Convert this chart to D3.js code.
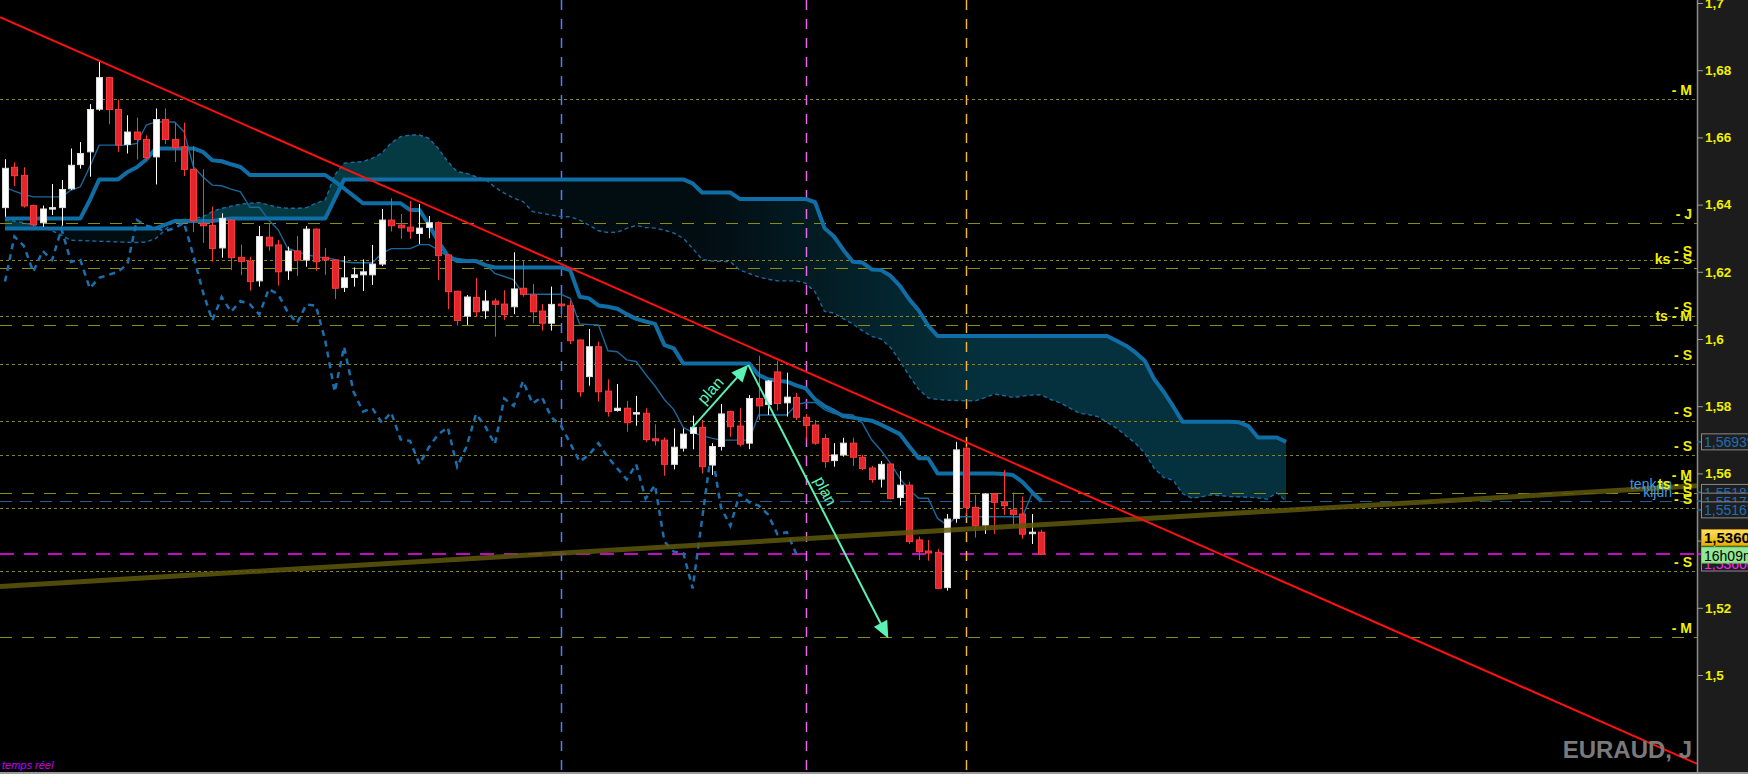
<!DOCTYPE html>
<html><head><meta charset="utf-8">
<script src="https://cdn.jsdelivr.net/npm/d3@7"></script>
<style>
html,body{margin:0;padding:0;background:#000;overflow:hidden}
svg{display:block}
text{font-family:"Liberation Sans",Arial,sans-serif}
</style></head><body>
<svg id="c" width="1748" height="774"></svg>
<script>
// ---------------- DATA ----------------
const opens = [
1.6391,1.6511,1.6487,1.6397,1.6346,1.6390,1.6391,1.6447,1.6519,1.6557,
1.6684,1.6778,1.6683,1.6579,1.6616,1.6594,1.6542,1.6653,1.6594,1.6572,
1.6505,1.6344,1.6338,1.6271,1.6354,1.6243,1.6232,1.6173,1.6303,1.6280,
1.6203,1.6262,1.6235,1.6327,1.6243,1.6235,1.6153,1.6183,1.6191,1.6191,
1.6223,1.6354,1.6339,1.6333,1.6314,1.6332,1.6346,1.6250,1.6142,1.6068,
1.6124,1.6084,1.6113,1.6104,1.6096,1.6151,1.6131,1.6083,1.6047,1.6104,
1.6099,1.5997,1.5888,1.5977,1.5845,1.5787,1.5794,1.5777,1.5779,1.5703,
1.5699,1.5627,1.5675,1.5719,1.5737,1.5625,1.5680,1.5784,1.5741,1.5690,
1.5823,1.5805,1.5902,1.5810,1.5826,1.5767,1.5744,1.5704,1.5638,1.5655,
1.5690,1.5648,1.5616,1.5583,1.5628,1.5528,1.5565,1.5402,1.5369,1.5365,
1.5260,1.5466,1.5675,1.5499,1.5446,1.5539,1.5514,1.5491,1.5479,1.5422,1.5425];
const highs = [
1.6535,1.6526,1.6511,1.6400,1.6397,1.6461,1.6473,1.6567,1.6586,1.6699,
1.6827,1.6780,1.6713,1.6666,1.6659,1.6606,1.6686,1.6686,1.6644,1.6644,
1.6574,1.6505,1.6394,1.6374,1.6356,1.6281,1.6245,1.6336,1.6344,1.6295,
1.6275,1.6307,1.6336,1.6329,1.6271,1.6237,1.6247,1.6213,1.6237,1.6280,
1.6387,1.6419,1.6372,1.6411,1.6402,1.6366,1.6350,1.6252,1.6144,1.6131,
1.6182,1.6145,1.6121,1.6145,1.6258,1.6232,1.6164,1.6104,1.6156,1.6131,
1.6114,1.5999,1.6030,1.5992,1.5880,1.5866,1.5816,1.5831,1.5794,1.5746,
1.5707,1.5734,1.5734,1.5772,1.5759,1.5690,1.5807,1.5787,1.5794,1.5833,
1.5950,1.5878,1.5935,1.5900,1.5840,1.5777,1.5759,1.5717,1.5690,1.5706,
1.5706,1.5655,1.5622,1.5637,1.5630,1.5607,1.5575,1.5412,1.5402,1.5375,
1.5479,1.5694,1.5680,1.5536,1.5541,1.5541,1.5610,1.5543,1.5531,1.5479,1.5432];
const lows = [
1.6364,1.6455,1.6391,1.6334,1.6334,1.6369,1.6337,1.6443,1.6507,1.6483,
1.6679,1.6639,1.6557,1.6552,1.6534,1.6534,1.6460,1.6580,1.6527,1.6485,
1.6318,1.6286,1.6230,1.6242,1.6205,1.6190,1.6144,1.6156,1.6263,1.6159,
1.6176,1.6188,1.6215,1.6203,1.6191,1.6119,1.6140,1.6156,1.6143,1.6161,
1.6217,1.6320,1.6298,1.6298,1.6283,1.6300,1.6176,1.6089,1.6040,1.6042,
1.6066,1.6060,1.6007,1.6057,1.6074,1.6126,1.6047,1.6025,1.6025,1.6063,
1.5985,1.5828,1.5861,1.5814,1.5769,1.5784,1.5724,1.5742,1.5693,1.5683,
1.5593,1.5612,1.5665,1.5672,1.5600,1.5595,1.5668,1.5709,1.5680,1.5672,
1.5759,1.5774,1.5787,1.5769,1.5759,1.5702,1.5685,1.5617,1.5620,1.5650,
1.5622,1.5610,1.5572,1.5558,1.5523,1.5504,1.5390,1.5342,1.5340,1.5255,
1.5251,1.5453,1.5476,1.5409,1.5420,1.5420,1.5476,1.5441,1.5405,1.5390,1.5359];
const closes = [
1.6508,1.6486,1.6396,1.6340,1.6387,1.6391,1.6445,1.6517,1.6552,1.6683,
1.6778,1.6683,1.6577,1.6616,1.6594,1.6540,1.6653,1.6594,1.6569,1.6505,
1.6352,1.6337,1.6269,1.6359,1.6242,1.6231,1.6171,1.6305,1.6277,1.6200,
1.6262,1.6235,1.6327,1.6230,1.6235,1.6151,1.6182,1.6191,1.6200,1.6223,
1.6354,1.6337,1.6331,1.6321,1.6330,1.6346,1.6248,1.6141,1.6055,1.6125,
1.6081,1.6113,1.6103,1.6073,1.6149,1.6133,1.6081,1.6047,1.6103,1.6099,
1.5995,1.5843,1.5977,1.5843,1.5784,1.5794,1.5751,1.5781,1.5701,1.5697,
1.5627,1.5678,1.5717,1.5737,1.5620,1.5680,1.5777,1.5739,1.5687,1.5823,
1.5801,1.5875,1.5808,1.5827,1.5767,1.5743,1.5690,1.5635,1.5655,1.5690,
1.5648,1.5615,1.5582,1.5627,1.5525,1.5565,1.5397,1.5367,1.5363,1.5258,
1.5464,1.5670,1.5499,1.5444,1.5539,1.5514,1.5504,1.5478,1.5419,1.5425,1.5360];
const tenkan = [
1.6451,1.6440,1.6430,1.6423,1.6423,1.6423,1.6423,1.6443,1.6453,1.6513,
1.6577,1.6577,1.6577,1.6577,1.6582,1.6637,1.6646,1.6646,1.6646,1.6617,
1.6513,1.6483,1.6458,1.6456,1.6446,1.6438,1.6392,1.6392,1.6354,1.6325,
1.6270,1.6260,1.6251,1.6245,1.6241,1.6237,1.6230,1.6227,1.6227,1.6227,
1.6255,1.6269,1.6269,1.6269,1.6281,1.6281,1.6265,1.6245,1.6240,1.6236,
1.6233,1.6222,1.6195,1.6186,1.6176,1.6133,1.6133,1.6133,1.6133,1.6133,
1.6121,1.6045,1.6043,1.6042,1.5965,1.5962,1.5938,1.5933,1.5895,1.5860,
1.5820,1.5790,1.5737,1.5722,1.5712,1.5705,1.5699,1.5699,1.5699,1.5699,
1.5774,1.5774,1.5774,1.5774,1.5805,1.5811,1.5811,1.5790,1.5778,1.5776,
1.5774,1.5750,1.5700,1.5668,1.5630,1.5585,1.5551,1.5526,1.5526,1.5466,
1.5446,1.5471,1.5471,1.5471,1.5471,1.5471,1.5471,1.5471,1.5471,1.5538,1.5517];
const kijun = [
1.6359,1.6359,1.6359,1.6359,1.6359,1.6359,1.6359,1.6359,1.6359,1.6413,
1.6475,1.6475,1.6475,1.6497,1.6511,1.6534,1.6567,1.6567,1.6567,1.6567,
1.6567,1.6557,1.6532,1.6529,1.6520,1.6512,1.6488,1.6488,1.6488,1.6488,
1.6488,1.6488,1.6488,1.6488,1.6488,1.6469,1.6448,1.6426,1.6404,1.6404,
1.6404,1.6404,1.6404,1.6384,1.6384,1.6340,1.6290,1.6248,1.6232,1.6232,
1.6232,1.6220,1.6213,1.6213,1.6213,1.6213,1.6213,1.6213,1.6213,1.6213,
1.6205,1.6126,1.6121,1.6100,1.6096,1.6090,1.6074,1.6060,1.6052,1.6045,
1.5982,1.5972,1.5927,1.5927,1.5927,1.5927,1.5927,1.5927,1.5927,1.5927,
1.5893,1.5880,1.5876,1.5873,1.5862,1.5853,1.5820,1.5800,1.5786,1.5770,
1.5766,1.5761,1.5757,1.5745,1.5731,1.5717,1.5680,1.5645,1.5645,1.5600,
1.5600,1.5600,1.5600,1.5600,1.5600,1.5600,1.5598,1.5595,1.5575,1.5545,1.5518];
// leading spans, 26 periods beyond the last candle (indices 0..136)
const senkouA = [
1.6354,1.6351,1.6346,1.6339,1.6332,1.6322,1.6309,1.6294,1.6293,1.6292,
1.6291,1.6290,1.6289,1.6288,1.6287,1.6289,1.6299,1.6324,1.6354,1.6356,
1.6358,1.6364,1.6379,1.6389,1.6395,1.6401,1.6404,1.6406,1.6399,1.6392,
1.6389,1.6389,1.6391,1.6404,1.6414,1.6488,1.6523,1.6526,1.6528,1.6538,
1.6553,1.6584,1.6602,1.6607,1.6607,1.6597,1.6567,1.6528,1.6498,1.6493,
1.6483,1.6475,1.6452,1.6434,1.6419,1.6409,1.6379,1.6374,1.6369,1.6364,
1.6364,1.6354,1.6339,1.6322,1.6317,1.6318,1.6329,1.6338,1.6332,1.6330,
1.6324,1.6315,1.6300,1.6270,1.6237,1.6232,1.6231,1.6230,1.6205,1.6195,
1.6185,1.6178,1.6173,1.6173,1.6173,1.6166,1.6140,1.6082,1.6077,1.6060,
1.6045,1.6025,1.6008,1.6000,1.5975,1.5935,1.5890,1.5850,1.5825,1.5820,
1.5818,1.5817,1.5816,1.5816,1.5825,1.5836,1.5832,1.5826,1.5830,1.5833,
1.5834,1.5820,1.5810,1.5795,1.5780,1.5775,1.5769,1.5752,1.5735,1.5712,
1.5690,1.5660,1.5615,1.5588,1.5580,1.5540,1.5526,1.5530,1.5536,1.5534,
1.5531,1.5530,1.5529,1.5527,1.5523,1.5543,1.5517];
const senkouB = [
1.6329,1.6329,1.6329,1.6329,1.6329,1.6329,1.6329,1.6329,1.6329,1.6329,
1.6329,1.6329,1.6329,1.6329,1.6329,1.6329,1.6329,1.6340,1.6351,1.6351,
1.6351,1.6351,1.6351,1.6355,1.6359,1.6359,1.6359,1.6359,1.6359,1.6359,
1.6359,1.6359,1.6359,1.6359,1.6359,1.6417,1.6475,1.6475,1.6475,1.6475,
1.6475,1.6475,1.6475,1.6475,1.6475,1.6475,1.6475,1.6475,1.6475,1.6475,
1.6475,1.6475,1.6475,1.6475,1.6475,1.6475,1.6475,1.6475,1.6475,1.6475,
1.6475,1.6475,1.6475,1.6475,1.6475,1.6475,1.6475,1.6475,1.6475,1.6475,
1.6475,1.6475,1.6475,1.6463,1.6436,1.6436,1.6436,1.6436,1.6417,1.6417,
1.6417,1.6417,1.6417,1.6417,1.6417,1.6417,1.6407,1.6330,1.6305,1.6265,
1.6230,1.6228,1.6207,1.6205,1.6188,1.6158,1.6118,1.6085,1.6040,1.6009,
1.6009,1.6009,1.6009,1.6009,1.6009,1.6009,1.6009,1.6009,1.6009,1.6009,
1.6009,1.6009,1.6009,1.6009,1.6009,1.6009,1.6009,1.6009,1.5995,1.5980,
1.5960,1.5935,1.5880,1.5843,1.5800,1.5754,1.5754,1.5754,1.5754,1.5754,
1.5754,1.5752,1.5741,1.5707,1.5707,1.5707,1.5694];
const chikouShift = 26;
const tickValues = [1.5,1.52,1.54,1.56,1.58,1.6,1.62,1.64,1.66,1.68,1.7];
const tickLabels = ["1,5","1,52","1,54","1,56","1,58","1,6","1,62","1,64","1,66","1,68","1,7"];
const levelValues = [1.67143,1.63443,1.62351,1.62104,1.60685,1.60417,1.59247,1.57560,1.56539,1.55685,1.55426,1.55188,1.54961,1.53095,1.51122];
const levelStyles = ["fine","long","fine","long","fine","long","fine","fine","fine","none","long","blue","fine","fine","long"];
const levelLabels = ["- M","- J","- S","ks - S","- S","ts - M","- S","- S","- S","- M","ts - S","- S","- S","- S","- M"];
const levelTags = ["","","","","","","","","","","tenkan","kijun","","",""];
const vLineIdx = [59,85,102];
const vLineColors = ["#4f7dff","#e86ae8","#f0b43a"];
const redTrend = [{i:-0.53,v:1.6958},{i:179.6,v:1.4736}];
const oliveTrend = [{i:-0.53,v:1.52635},{i:179.6,v:1.5563}];
const planArrows = [
  {from:{i:72.9,v:1.5734}, to:{i:78.9,v:1.5923}, label:"plan"},
  {from:{i:78.9,v:1.5923}, to:{i:93.77,v:1.5109}, label:"plan"}];
const markerValues = [1.56939,1.55181,1.55174,1.55167];
const markerLabels = ["1,56939","1,55181","1,55174","1,55167"];
const markerStack = [0,-1,0,1];
const lastPrice = 1.5360;
const lastPriceLabel = "1,5360";
const lastPriceLabel2 = "1,53600";
const timerLabel = "16h09m";
const symbolLabel = "EURAUD, J";
const modeLabel = "temps réel";

// ---------------- DRAW ----------------
const W=1748, H=774, plotR=1697, plotB=772;
const svg=d3.select("#c");
const x=d3.scaleLinear().domain([0,110]).range([5,1041.2]);
const y=d3.scaleLinear().domain([1.5,1.7]).range([675,3]);

svg.append("rect").attr("width",W).attr("height",H).attr("fill","#000");
const defs=svg.append("defs");
defs.append("clipPath").attr("id","plot").append("rect").attr("x",0).attr("y",0).attr("width",plotR).attr("height",plotB);
const cIdx=d3.range(senkouA.length);
defs.append("clipPath").attr("id","aboveB").append("path")
  .attr("d",d3.area().x(i=>x(i)).y0(0).y1(i=>y(senkouB[i]))(cIdx));
defs.append("clipPath").attr("id","belowB").append("path")
  .attr("d",d3.area().x(i=>x(i)).y0(plotB).y1(i=>y(senkouB[i]))(cIdx));
const grad=defs.append("linearGradient").attr("id","bear").attr("gradientUnits","userSpaceOnUse")
  .attr("x1",x(74)).attr("x2",x(104)).attr("y1",0).attr("y2",0);
grad.append("stop").attr("offset",0).attr("stop-color","#020d12");
grad.append("stop").attr("offset",1).attr("stop-color","#04313d");
const gold=defs.append("linearGradient").attr("id","gold").attr("x1",0).attr("x2",0).attr("y1",0).attr("y2",1);
gold.append("stop").attr("offset",0).attr("stop-color","#ffe060");
gold.append("stop").attr("offset",1).attr("stop-color","#e8b000");

const plot=svg.append("g").attr("clip-path","url(#plot)");

// cloud
const between=d3.area().x(i=>x(i)).y0(i=>y(senkouA[i])).y1(i=>y(senkouB[i]));
plot.append("g").attr("clip-path","url(#aboveB)").append("path").attr("d",between(cIdx)).attr("fill","#053a42");
plot.append("g").attr("clip-path","url(#belowB)").append("path").attr("d",between(cIdx)).attr("fill","url(#bear)");

// level lines
const styleMap={fine:{c:"#85851a",d:"3,3",w:1},long:{c:"#8c8c12",d:"12,10",w:1.2},blue:{c:"#22608e",d:"12,8",w:1.2}};
levelValues.forEach((v,k)=>{
  const s=styleMap[levelStyles[k]]; if(!s) return;
  plot.append("line").attr("x1",0).attr("x2",plotR).attr("y1",Math.round(y(v))+0.5).attr("y2",Math.round(y(v))+0.5)
    .attr("stroke",s.c).attr("stroke-dasharray",s.d).attr("stroke-width",s.w);
});
// last price line
plot.append("line").attr("x1",0).attr("x2",plotR).attr("y1",y(lastPrice)).attr("y2",y(lastPrice))
  .attr("stroke","#ff10ff").attr("stroke-width",1.6).attr("stroke-dasharray","14,10");

// vertical lines
vLineIdx.forEach((i,k)=>{
  plot.append("line").attr("x1",Math.round(x(i))+0.5).attr("x2",Math.round(x(i))+0.5).attr("y1",0).attr("y2",plotB)
    .attr("stroke",vLineColors[k]).attr("stroke-width",1.5).attr("stroke-dasharray","10,9");
});

// ichimoku lines
const lineI=arr=>d3.line().x((d,i)=>x(i)).y(d=>y(d))(arr);
plot.append("path").attr("d",lineI(senkouA)).attr("fill","none").attr("stroke","#1a6a9e").attr("stroke-width",1.4).attr("stroke-dasharray","4,3");
plot.append("path").attr("d",lineI(senkouB)).attr("fill","none").attr("stroke","#0f6ea6").attr("stroke-width",4).attr("stroke-linejoin","round");
const chikou=closes.slice(chikouShift).map((v,k)=>({i:k,v}));
plot.append("path").attr("d",d3.line().x(d=>x(d.i)).y(d=>y(d.v))(chikou)).attr("fill","none")
  .attr("stroke","#1a6fae").attr("stroke-width",2.5).attr("stroke-dasharray","6,5");
plot.append("path").attr("d",lineI(kijun)).attr("fill","none").attr("stroke","#0f6ea6").attr("stroke-width",4).attr("stroke-linejoin","round");
plot.append("path").attr("d",lineI(tenkan)).attr("fill","none").attr("stroke","#1a679a").attr("stroke-width",1.4);

// candles
const candles=opens.map((o,i)=>({i,o,h:highs[i],l:lows[i],c:closes[i]}));
const cg=plot.append("g");
candles.forEach(d=>{
  const up=d.c>=d.o, cx=Math.round(x(d.i))+0.5;
  const col=up?"#ffffff":"#ff3434";
  cg.append("line").attr("x1",cx).attr("x2",cx).attr("y1",y(d.h)).attr("y2",y(d.l)).attr("stroke",col).attr("stroke-width",1);
  const top=y(Math.max(d.o,d.c)), bot=y(Math.min(d.o,d.c));
  cg.append("rect").attr("x",cx-3).attr("y",top).attr("width",6).attr("height",Math.max(1.5,bot-top))
    .attr("fill",up?"#ffffff":"#e2262b").attr("stroke",up?"#dcdcdc":"#ff3a3a").attr("stroke-width",1);
});

// trend lines
const tl=d3.line().x(d=>x(d.i)).y(d=>y(d.v));
plot.append("path").attr("d",tl(oliveTrend)).attr("stroke","#5e580c").attr("stroke-opacity",0.85).attr("stroke-width",5).attr("fill","none");

// symbol text (under red line)
svg.append("text").attr("x",1692).attr("y",758).attr("text-anchor","end").attr("font-size",24).attr("font-weight","bold")
  .attr("fill","#7a7a7a").text(symbolLabel);
plot.append("path").attr("d",tl(redTrend)).attr("stroke","#ff1010").attr("stroke-width",2).attr("fill","none");

// plan arrows
const green="#5cf0b4";
planArrows.forEach(p=>{
  const x0=x(p.from.i), y0=y(p.from.v), x1=x(p.to.i), y1=y(p.to.v);
  const dx=x1-x0, dy=y1-y0, L=Math.hypot(dx,dy), ux=dx/L, uy=dy/L;
  const hl=17, hw=7.5, bx=x1-ux*hl, by=y1-uy*hl;
  plot.append("line").attr("x1",x0).attr("y1",y0).attr("x2",bx+ux*2).attr("y2",by+uy*2).attr("stroke",green).attr("stroke-width",2);
  plot.append("path").attr("d",`M${x1},${y1}L${bx-uy*hw},${by+ux*hw}L${bx+uy*hw},${by-ux*hw}Z`).attr("fill",green);
  const mx=x0+dx*0.48+uy*10, my=y0+dy*0.48-ux*10;
  const ang=Math.atan2(dy,dx)*180/Math.PI;
  plot.append("text").attr("transform",`translate(${mx},${my}) rotate(${ang})`).attr("text-anchor","middle")
    .attr("dominant-baseline","middle").attr("font-size",16).attr("fill",green).text(p.label);
});

// level labels
levelValues.forEach((v,k)=>{
  const yy=y(v);
  if(levelTags[k]) svg.append("text").attr("x",1672).attr("y",yy-4).attr("text-anchor","end").attr("font-size",14)
    .attr("fill","#3b9be0").text(levelTags[k]);
  svg.append("text").attr("x",1692).attr("y",yy-4).attr("text-anchor","end").attr("font-size",14).attr("font-weight","bold")
    .attr("fill","#f0f000").text(levelLabels[k]);
});

// axis panel
svg.append("rect").attr("x",plotR).attr("y",0).attr("width",W-plotR).attr("height",plotB).attr("fill","#1c1c1c");
svg.append("line").attr("x1",plotR+0.5).attr("x2",plotR+0.5).attr("y1",0).attr("y2",plotB).attr("stroke","#8a8a8a").attr("stroke-width",1.5);
const axis=d3.axisRight(y).tickValues(tickValues).tickFormat((d,k)=>tickLabels[k]).tickSize(6).tickPadding(2);
const ag=svg.append("g").attr("transform",`translate(${plotR},0)`).call(axis);
ag.select(".domain").remove();
ag.selectAll(".tick line").attr("stroke","#9a9a9a");
ag.selectAll(".tick text").attr("fill","#f0f000").attr("font-size",13.5).attr("font-weight","bold")
  .attr("font-family","'Liberation Sans',Arial,sans-serif");

// value markers on axis
function box(cy,label,bg,fg,stroke,bold){
  svg.append("rect").attr("x",1701.5).attr("y",cy-8).attr("width",60).attr("height",16).attr("fill",bg).attr("stroke",stroke).attr("stroke-width",1);
  svg.append("text").attr("x",1704).attr("y",cy+5.5).attr("font-size",bold?15:14).attr("font-weight",bold?"bold":"normal").attr("fill",fg).text(label);
}
markerValues.forEach((v,k)=>{
  const cy=y(v)+markerStack[k]*8.5;
  svg.append("line").attr("x1",plotR).attr("x2",1702).attr("y1",cy).attr("y2",cy).attr("stroke","#1e6eb4").attr("stroke-width",1.5);
  box(cy,markerLabels[k],"#1e1e1e","#1e6eb4","#8a8a8a",false);
});
const py=y(lastPrice);
svg.append("line").attr("x1",plotR).attr("x2",1702).attr("y1",py).attr("y2",py).attr("stroke","#ff10ff").attr("stroke-width",1.5);
box(py+9,lastPriceLabel2,"#1e1e1e","#ff20ff","#8a8a8a",false);
box(py+1,timerLabel,"#90e890","#000","#6cc86c",false);
box(py-16.5,lastPriceLabel,"url(#gold)","#000","#c89000",true);

// bottom border + mode text
svg.append("line").attr("x1",0).attr("x2",W).attr("y1",plotB+1).attr("y2",plotB+1).attr("stroke","#9a9a9a").attr("stroke-width",2);
svg.append("text").attr("x",2).attr("y",769).attr("font-size",11).attr("font-style","italic").attr("fill","#c400ff").text(modeLabel);
</script>
</body></html>
